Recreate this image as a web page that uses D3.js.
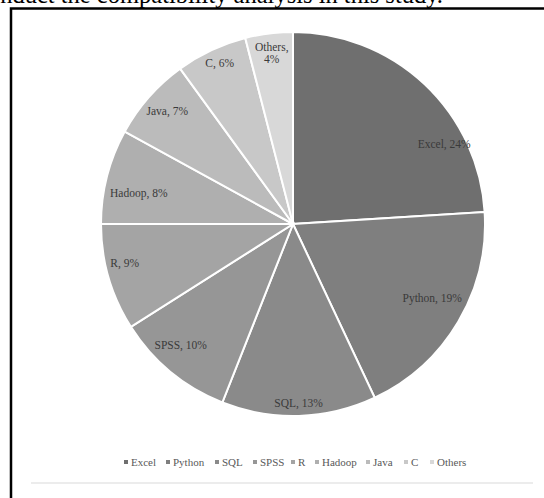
<!DOCTYPE html>
<html>
<head>
<meta charset="utf-8">
<script src="https://cdn.jsdelivr.net/npm/d3@7"></script>
<style>
  body { margin: 0; background: #fff; }
  svg { display: block; font-family: 'Liberation Serif', 'Times New Roman', serif; }
</style>
</head>
<body>
<svg width="544" height="498"></svg>
<script>
//chart data
var languages = ['Excel', 'Python', 'SQL', 'SPSS', 'R', 'Hadoop', 'Java', 'C', 'Others'];
var shares = [24, 19, 13, 10, 9, 8, 7, 6, 4];
//grey shades for each slice, dark to light
var shades = ['#6f6f6f', '#7f7f7f', '#8a8a8a', '#969696', '#a4a4a4', '#afafaf', '#bbbbbb', '#c8c8c8', '#d8d8d8'];
//where each label sits: [fraction across slice, fraction of radius]
var labelAt = [[0.72, 0.89], [0.46, 0.82], [0.5, 0.93], [0.59, 0.86], [0.6, 0.9],
               [0.4, 0.82], [0.52, 0.88], [0.53, 0.92], [0.51, 0.9]];

var svg = d3.select('svg');
var cx = 293, cy = 224, R = 192;

//clipped line of body text above the figure
svg.append('text')
   .attr('x', 443).attr('y', 3)
   .attr('text-anchor', 'end')
   .attr('font-size', 24.5)
   .attr('fill', '#000')
   .text('conduct the compatibility analysis in this study.');

//figure frame (left and top edges are the only visible ones)
svg.append('path')
   .attr('d', 'M11,520 V8.5 H560')
   .attr('fill', 'none')
   .attr('stroke', '#000')
   .attr('stroke-width', 2.5);

//chart area bottom edge
svg.append('line')
   .attr('x1', 31).attr('x2', 533)
   .attr('y1', 483).attr('y2', 483)
   .attr('stroke', '#e6e6e6')
   .attr('stroke-width', 1.5);

var pie = d3.pie().sort(null).value(function(d) { return d; });
var arcs = pie(shares);
var arc = d3.arc().innerRadius(0).outerRadius(R);

var g = svg.append('g').attr('transform', 'translate(' + cx + ',' + cy + ')');

g.selectAll('path.slice')
  .data(arcs)
  .enter()
  .append('path')
    .attr('class', 'slice')
    .attr('d', arc)
    .attr('fill', function(d, i) { return shades[i]; })
    .attr('stroke', '#fff')
    .attr('stroke-width', 2);

//labels
var labels = g.selectAll('text.lbl')
  .data(arcs)
  .enter()
  .append('text')
    .attr('class', 'lbl')
    .attr('text-anchor', 'middle')
    .attr('font-size', 11.5)
    .attr('fill', '#3a3a3a')
    .attr('transform', function(d, i) {
        var a = d.startAngle + (d.endAngle - d.startAngle) * labelAt[i][0];
        var r = R * labelAt[i][1];
        return 'translate(' + (Math.sin(a) * r) + ',' + (-Math.cos(a) * r) + ')';
    });

labels.each(function(d, i) {
    var t = d3.select(this);
    var txt = languages[i] + ', ' + shares[i] + '%';
    if (languages[i] === 'Others') {
        t.append('tspan').attr('x', 0).attr('dy', '-0.15em').text(languages[i] + ',');
        t.append('tspan').attr('x', 0).attr('dy', '1.05em').text(shares[i] + '%');
    } else {
        t.attr('dy', '0.35em').text(txt);
    }
});

//legend
var legendX = [126, 168, 217, 255, 293, 317, 368, 406, 432];
var legend = svg.selectAll('g.legend')
  .data(languages)
  .enter()
  .append('g')
    .attr('class', 'legend')
    .attr('transform', function(d, i) { return 'translate(' + legendX[i] + ',462)'; });

legend.append('rect')
  .attr('x', -2).attr('y', -2)
  .attr('width', 4).attr('height', 4)
  .attr('fill', function(d, i) { return shades[i]; });

legend.append('text')
  .attr('x', 5).attr('dy', '0.35em')
  .attr('font-size', 11)
  .attr('fill', '#595959')
  .text(function(d) { return d; });
</script>
</body>
</html>
